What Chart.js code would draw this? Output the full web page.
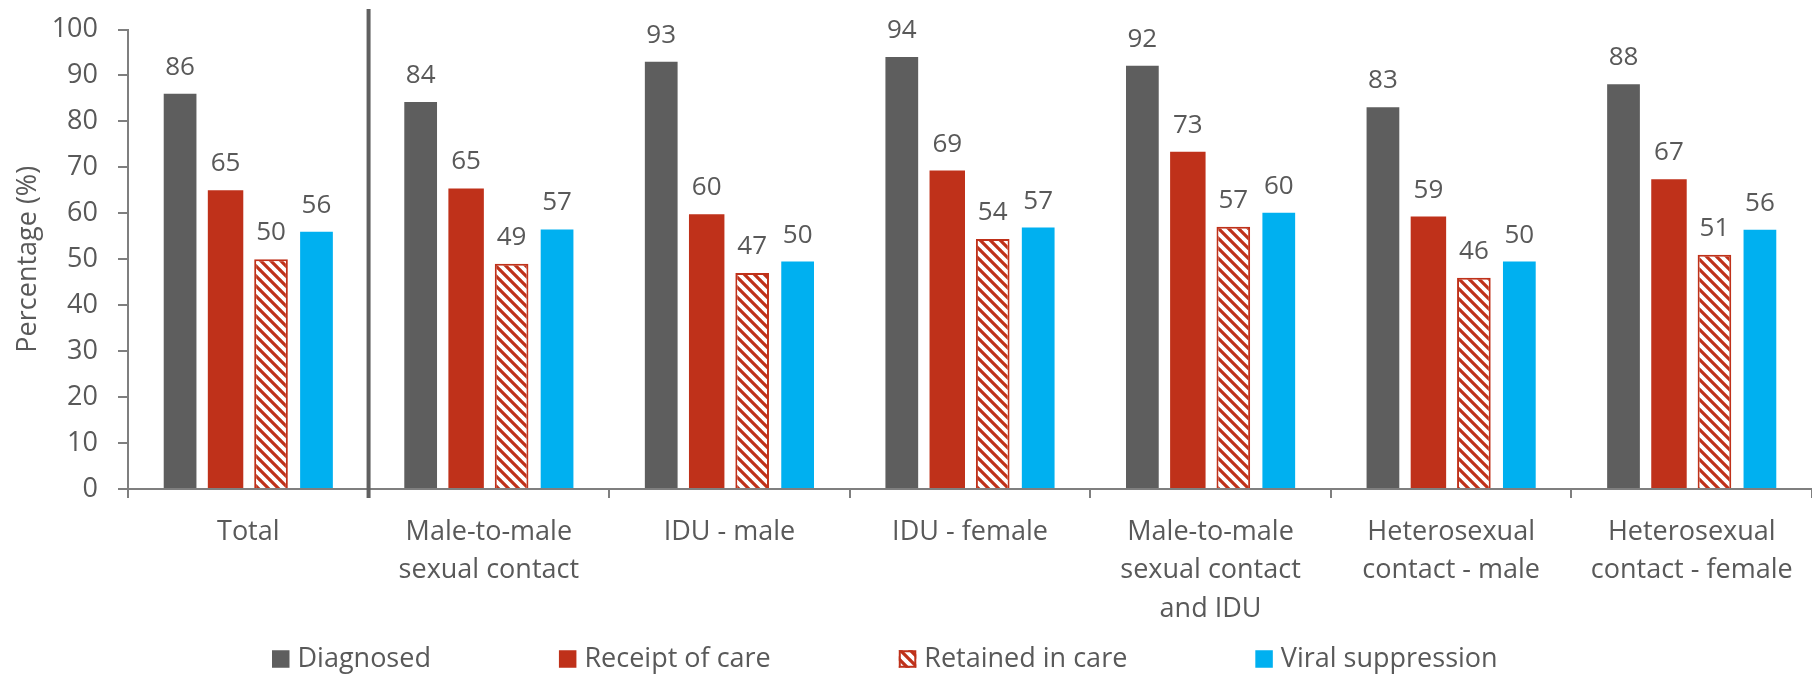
<!DOCTYPE html>
<html><head><meta charset="utf-8">
<script src="https://cdn.jsdelivr.net/npm/chart.js@4.4.1/dist/chart.umd.min.js"></script>
<style>html,body{margin:0;padding:0;background:#fff;} #wrap{width:1812px;height:674px;position:relative;}</style>
</head><body><div id="wrap"><canvas id="c"></canvas></div>
<script>
const categories = [
  ["Total"],
  ["Male-to-male", "sexual contact"],
  ["IDU - male"],
  ["IDU - female"],
  ["Male-to-male", "sexual contact", "and IDU"],
  ["Heterosexual", "contact - male"],
  ["Heterosexual", "contact - female"]
];
const seriesNames = ["Diagnosed", "Receipt of care", "Retained in care", "Viral suppression"];
const diagnosed = [86, 84.2, 93, 94, 92.1, 83.1, 88.1];
const receiptOfCare = [65, 65.4, 59.8, 69.3, 73.4, 59.3, 67.4];
const retainedInCare = [50, 49, 47, 54.4, 57.1, 46, 51];
const viralSuppression = [56, 56.5, 49.5, 56.9, 60.1, 49.5, 56.4];
const yMin = 0, yMax = 100, yStep = 10;

const TEXT = '#595959';
const AXIS = '#7f7f7f';
const GRAY = '#5e5e5e', RED = '#bf311a', BLUE = '#00b0f0';
Chart.defaults.font.family = "'Open Sans', sans-serif";
Chart.defaults.color = TEXT;

function hatch(color) {
  const c = document.createElement('canvas'); c.width = 10; c.height = 10;
  const g = c.getContext('2d');
  g.fillStyle = '#fff'; g.fillRect(0, 0, 10, 10);
  g.strokeStyle = color; g.lineWidth = 3.2; g.beginPath();
  for (let k = -1; k <= 1; k++) { g.moveTo(k * 10 - 1, -1); g.lineTo(k * 10 + 11, 11); }
  g.stroke();
  return g.createPattern(c, 'repeat');
}
const hatchRed = hatch(RED);

const valueLabels = {
  id: 'valueLabels',
  afterDatasetsDraw(chart) {
    const ctx = chart.ctx;
    ctx.save();
    ctx.font = "26px 'Open Sans', sans-serif";
    ctx.fillStyle = TEXT; ctx.textAlign = 'center'; ctx.textBaseline = 'alphabetic';
    chart.data.datasets.forEach((ds, di) => {
      chart.getDatasetMeta(di).data.forEach((el, i) => {
        ctx.fillText(String(Math.round(ds.data[i])), el.x, el.y - 19);
      });
    });
    ctx.restore();
  }
};

const separator = {
  id: 'separator',
  afterDraw(chart) {
    const x = chart.scales.x, ctx = chart.ctx;
    const px = (x.getPixelForValue(0) + x.getPixelForValue(1)) / 2;
    ctx.save();
    ctx.strokeStyle = '#606060'; ctx.lineWidth = 4;
    ctx.beginPath(); ctx.moveTo(px, 9); ctx.lineTo(px, chart.chartArea.bottom + 9); ctx.stroke();
    ctx.restore();
  }
};

const customLegend = {
  id: 'customLegend',
  afterDraw(chart) {
    const ctx = chart.ctx;
    ctx.save();
    ctx.font = "27px 'Open Sans', sans-serif";
    ctx.textBaseline = 'middle'; ctx.textAlign = 'left';
    let x = 272; const yc = 659, box = 17.5, gap = 128;
    chart.data.datasets.forEach(ds => {
      ctx.fillStyle = ds.backgroundColor;
      ctx.fillRect(x, yc - box / 2, box, box);
      if (ds.borderWidth) {
        ctx.strokeStyle = ds.borderColor; ctx.lineWidth = 2;
        ctx.strokeRect(x + 1, yc - box / 2 + 1, box - 2, box - 2);
      }
      ctx.fillStyle = TEXT;
      const tx = x + box + 8;
      ctx.fillText(ds.label, tx, yc);
      x = tx + ctx.measureText(ds.label).width + gap;
    });
    ctx.restore();
  }
};

new Chart(document.getElementById('c'), {
  type: 'bar',
  data: {
    labels: categories,
    datasets: [
      { label: seriesNames[0], data: diagnosed, backgroundColor: GRAY, barPercentage: 0.72 },
      { label: seriesNames[1], data: receiptOfCare, backgroundColor: RED, barPercentage: 0.78 },
      { label: seriesNames[2], data: retainedInCare, backgroundColor: hatchRed, borderColor: RED, borderWidth: 2, barPercentage: 0.74 },
      { label: seriesNames[3], data: viralSuppression, backgroundColor: BLUE, barPercentage: 0.72 }
    ]
  },
  options: {
    responsive: true, maintainAspectRatio: false, animation: false,
    layout: { padding: { top: 29.5, right: -5, bottom: 40, left: 0 } },
    datasets: { bar: { categoryPercentage: 0.756 } },
    plugins: { legend: { display: false }, tooltip: { enabled: false } },
    scales: {
      x: {
        afterFit: s => { s.height = 145; s.paddingLeft = 0; s.paddingRight = 0; },
        grid: { offset: true, drawOnChartArea: false, drawTicks: true, tickLength: 9, color: AXIS, lineWidth: 2 },
        border: { display: true, color: AXIS, width: 2 },
        ticks: { font: { size: 27, lineHeight: 1.426 }, color: TEXT, padding: 15, maxRotation: 0, autoSkip: false }
      },
      y: {
        min: yMin, max: yMax,
        afterFit: s => { s.width = 128; s.paddingTop = 0; s.paddingBottom = 0; },
        grid: { drawOnChartArea: false, drawTicks: true, tickLength: 10, color: AXIS, lineWidth: 2 },
        border: { display: true, color: AXIS, width: 2 },
        ticks: { stepSize: yStep, font: { size: 27 }, color: TEXT, padding: 20 },
        title: { display: true, text: 'Percentage (%)', font: { size: 27 }, color: TEXT, padding: { top: 12, bottom: 0 } }
      }
    }
  },
  plugins: [valueLabels, separator, customLegend]
});
</script></body></html>
